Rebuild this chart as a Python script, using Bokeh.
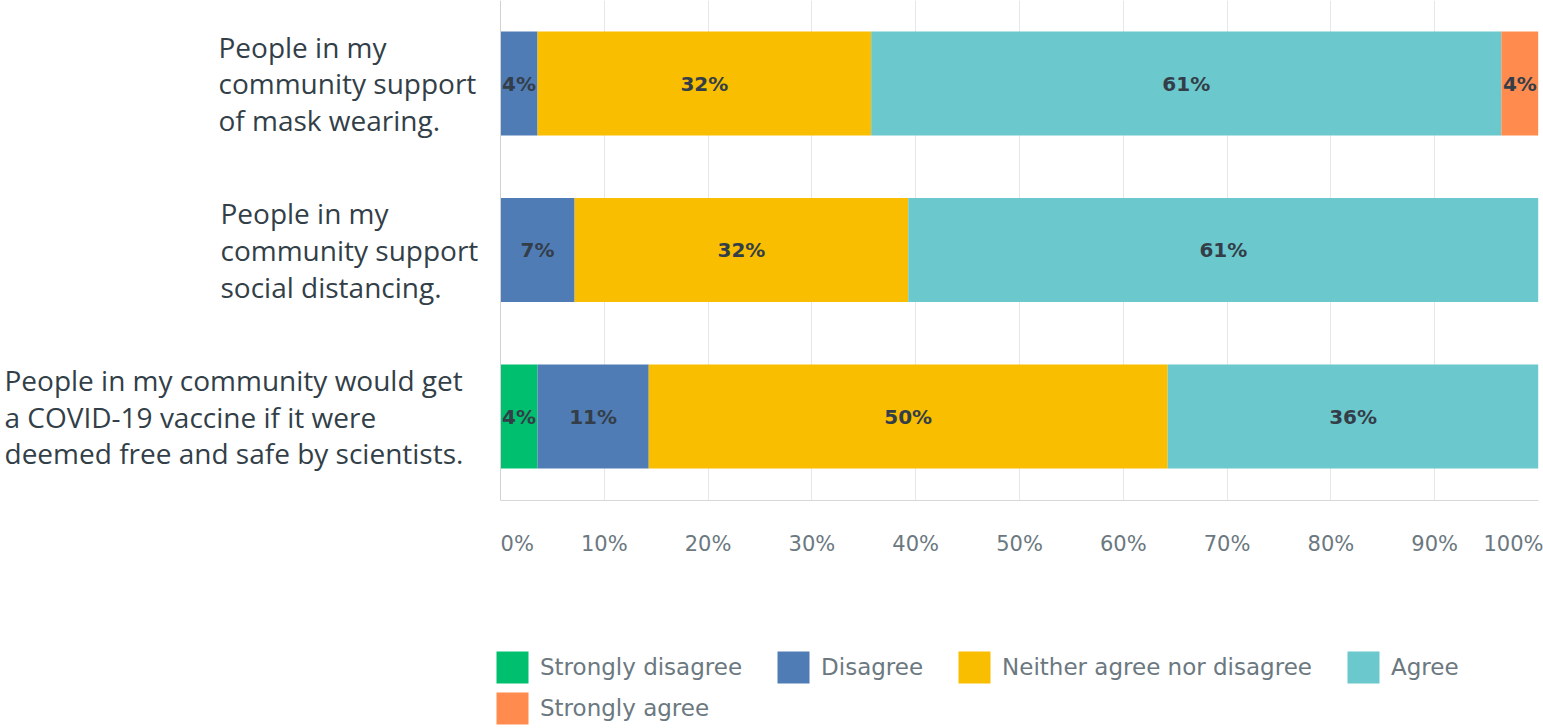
from bokeh.plotting import figure
from bokeh.layouts import column
from bokeh.models import Range1d, FixedTicker, Legend, LegendItem, ColumnDataSource, Span
from bokeh.core.properties import value
from bokeh.embed import file_html
from bokeh.resources import INLINE
import numpy as np

# ---------------- data ----------------
statements = [
    "People in my\ncommunity support\nof mask wearing.",
    "People in my\ncommunity support\nsocial distancing.",
    "People in my community would get\na COVID-19 vaccine if it were\ndeemed free and safe by scientists.",
]
responses = ["Strongly disagree", "Disagree", "Neither agree nor disagree", "Agree", "Strongly agree"]
strongly_disagree = [0.0, 0.0, 3.57]
disagree = [3.57, 7.14, 10.71]
neither = [32.14, 32.14, 50.0]
agree = [60.71, 60.71, 35.71]
strongly_agree = [3.57, 0.0, 0.0]
tick_values = [0, 10, 20, 30, 40, 50, 60, 70, 80, 90, 100]
tick_labels = ["0%", "10%", "20%", "30%", "40%", "50%", "60%", "70%", "80%", "90%", "100%"]

# ---------------- styles ----------------
colors = ["#00bf6f", "#507cb6", "#f9be00", "#6bc8cd", "#ff8b4f"]
label_text_color = "#333e48"
muted_text = "#6b787f"
NB = "\u00a0"
cat_label_offsets = [-282, -280, -496]   # px from the 0% line to the left edge of each text block
label_area_px = 500                       # width reserved left of the 0% line
bar_area_px = 1038

series = [strongly_disagree, disagree, neither, agree, strongly_agree]
keys = ["sd", "d", "n", "a", "sa"]
rows = list(range(len(statements)))[::-1]

src = ColumnDataSource(dict(row=rows, **{k: v for k, v in zip(keys, series)}))

x_start = -tick_values[-1] * label_area_px / bar_area_px
p = figure(width=1543, height=560, output_backend="svg", toolbar_location=None,
           x_range=Range1d(x_start, tick_values[-1]), y_range=Range1d(-0.5045, 2.4985),
           min_border_left=0, min_border_right=5, min_border_top=0, min_border_bottom=60)

renderers = p.hbar_stack(keys, y="row", height=0.625, color=colors, line_color=None, source=src)

# segment labels
vals = np.array(series)
cum = np.cumsum(vals, axis=0)
lefts = cum - vals
xs, ys, txt = [], [], []
for i in range(vals.shape[0]):
    for j in range(vals.shape[1]):
        if vals[i, j] > 0:
            xs.append((lefts[i, j] + cum[i, j]) / 2)
            ys.append(rows[j])
            txt.append(f"{int(round(vals[i, j]))}%")
tsrc = ColumnDataSource(dict(x=xs, y=ys, t=txt))
p.text(x="x", y="y", text="t", source=tsrc, text_font=value("DejaVu Sans"), text_font_style="bold",
       text_font_size="20px", text_color=label_text_color,
       text_align="center", text_baseline="middle")

# category labels (left-aligned blocks left of the axis)
csrc = ColumnDataSource(dict(x=[0] * len(rows), y=rows, t=statements, off=cat_label_offsets))
p.text(x="x", y="y", text="t", x_offset="off", source=csrc, text_font=value("Open Sans"),
       text_font_size="28px", text_color="#333f48", text_align="left", text_baseline="middle",
       text_line_height=0.97)

# grid / axis lines
p.outline_line_color = None
p.xgrid.ticker = FixedTicker(ticks=tick_values)
p.xgrid.grid_line_color = "#e6e7e8"
p.ygrid.visible = False
p.yaxis.visible = False
p.add_layout(Span(location=tick_values[0], dimension="height", line_color="#cfd1d2", line_width=1))

# x axis with tick labels
overrides = {t: lab for t, lab in zip(tick_values, tick_labels)}
overrides[tick_values[0]] = NB * 5 + tick_labels[0]
xa = p.xaxis[0]
xa.ticker = FixedTicker(ticks=tick_values)
xa.bounds = (tick_values[0], tick_values[-1])
xa.major_label_overrides = overrides
xa.major_tick_line_color = None
xa.major_tick_out = 0
xa.major_tick_in = 0
xa.minor_tick_line_color = None
xa.major_label_standoff = 31
xa.major_label_text_font = "DejaVu Sans"
xa.major_label_text_font_size = "21px"
xa.major_label_text_color = muted_text
xa.axis_line_color = "#d5d7d8"

# ---------------- legend strip ----------------
# same stacked bars, kept outside this strip's visible y range; only their legend swatches show
lg = figure(width=1543, height=168, output_backend="svg", toolbar_location=None,
            x_axis_type=None, y_axis_type=None, min_border=0,
            x_range=Range1d(0, 100), y_range=Range1d(rows[0] + 10, rows[0] + 11))
lg.outline_line_color = None
leg_renderers = lg.hbar_stack(keys, y="row", height=0.625, color=colors, line_color=None, source=src)

items = [LegendItem(label=lab, renderers=[rnd]) for lab, rnd in zip(responses, leg_renderers)]
common = dict(orientation="horizontal", glyph_width=40, glyph_height=40, label_standoff=8,
              spacing=31, padding=0, margin=0, border_line_color=None, background_fill_alpha=0,
              label_text_font="DejaVu Sans", label_text_font_size="23px", label_text_color=muted_text)
leg1 = Legend(items=items[:4], location=(label_area_px - 8, 41), **common)
leg2 = Legend(items=items[4:], location=(label_area_px - 8, 0), **common)
lg.add_layout(leg1)
lg.add_layout(leg2)

layout = column(p, lg, spacing=0)
open("out.html", "w").write(file_html(layout, INLINE))
